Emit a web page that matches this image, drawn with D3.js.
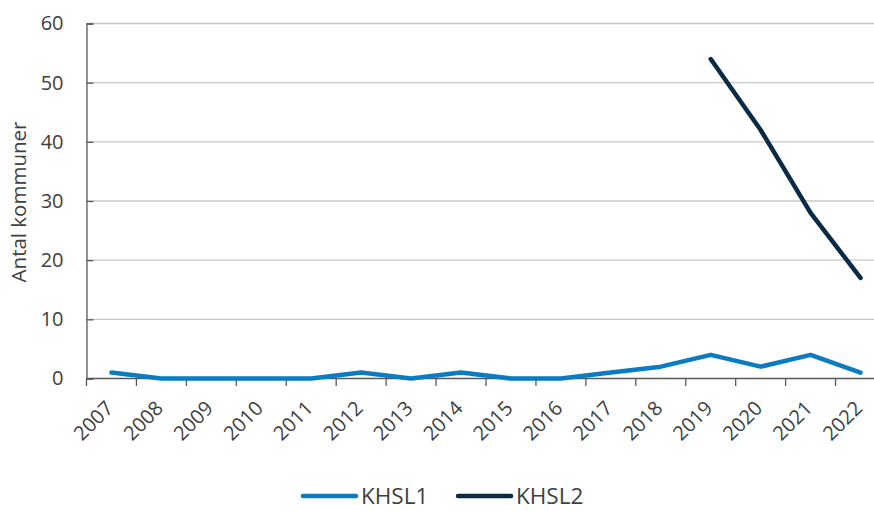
<!DOCTYPE html>
<html><head><meta charset="utf-8">
<script src="https://cdn.jsdelivr.net/npm/d3@7"></script>
<style>
html,body{margin:0;padding:0;background:#fff;}
text{font-family:"Open Sans",sans-serif;}
</style></head>
<body><svg id="c" width="874" height="511"></svg>
<script>
const years = ["2007","2008","2009","2010","2011","2012","2013","2014","2015","2016","2017","2018","2019","2020","2021","2022"];
const khsl1 = [1,0,0,0,0,1,0,1,0,0,1,2,4,2,4,1];
const khsl2 = [null,null,null,null,null,null,null,null,null,null,null,null,54,42,28,17];
const yTicks = [0,10,20,30,40,50,60];
const seriesNames = ["KHSL1","KHSL2"];
const colors = ["#0a7cc1","#0b2b45"];

const svg = d3.select("#c");
const x = d3.scaleBand().domain(years).range([86.5, 885.5]);
const y = d3.scaleLinear().domain([0,60]).range([378.5, 23.5]);

svg.append("g").selectAll("line").data(yTicks.filter(d=>d>0)).join("line")
  .attr("x1",86.5).attr("x2",874).attr("y1",d=>y(d)).attr("y2",d=>y(d))
  .attr("stroke","#c8c8c8").attr("stroke-width",1.3);

const ya = svg.append("g").attr("transform","translate(86.5,0)")
  .call(d3.axisLeft(y).tickValues(yTicks).tickSize(-7).tickPadding(23));
ya.select(".domain").attr("stroke","#595959").attr("stroke-width",1.3);
ya.selectAll(".tick line").attr("stroke","#595959").attr("stroke-width",1.3);
ya.selectAll(".tick text").attr("font-size",20).attr("fill","#404040").attr("font-family","Open Sans");

const xa = svg.append("g").attr("transform","translate(0,378.5)")
  .call(d3.axisBottom(x).tickSize(0).tickSizeOuter(0));
xa.select(".domain").attr("stroke","#595959").attr("stroke-width",1.3).attr("d","M86.5,0H874");
xa.selectAll(".tick text").attr("font-size",20).attr("fill","#404040").attr("font-family","Open Sans")
  .attr("text-anchor","end").attr("dy",null).attr("y",0)
  .attr("transform","translate(3,31) rotate(-45)");
svg.append("g").selectAll("line").data(years).join("line")
  .attr("x1",d=>x(d)).attr("x2",d=>x(d)).attr("y1",378.5).attr("y2",386)
  .attr("stroke","#595959").attr("stroke-width",1.3);

svg.append("text").attr("transform","translate(26,202) rotate(-90)")
  .attr("text-anchor","middle").attr("font-size",20.5).attr("fill","#404040")
  .text("Antal kommuner");

const cx = d => x(d) + x.bandwidth()/2;
const line = d3.line().defined(d=>d[1]!=null).x(d=>cx(d[0])).y(d=>y(d[1]));
[khsl1,khsl2].forEach((s,i)=>{
  svg.append("path").datum(years.map((yr,j)=>[yr,s[j]]))
    .attr("d",line).attr("fill","none").attr("stroke",colors[i])
    .attr("stroke-width",4.5).attr("stroke-linejoin","round").attr("stroke-linecap","round");
});

const legX = [303,458];
seriesNames.forEach((n,i)=>{
  const g = svg.append("g").attr("transform",`translate(${legX[i]},496)`);
  g.append("line").attr("x1",0).attr("x2",53).attr("y1",0).attr("y2",0)
    .attr("stroke",colors[i]).attr("stroke-width",4.5).attr("stroke-linecap","round");
  g.append("text").attr("x",58).attr("y",8).attr("font-size",22.5)
    .attr("fill","#404040").text(n);
});
</script></body></html>
